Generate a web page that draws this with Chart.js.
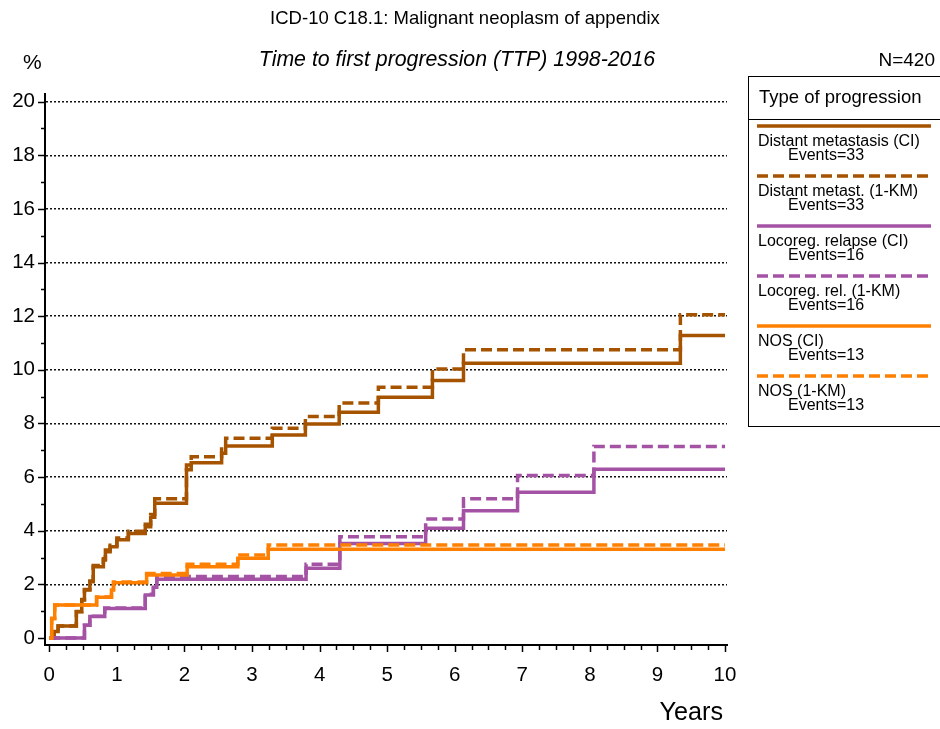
<!DOCTYPE html>
<html>
<head>
<meta charset="utf-8">
<title>ICD-10 C18.1: Malignant neoplasm of appendix</title>
<script src="https://cdn.jsdelivr.net/npm/chart.js@4.4.1/dist/chart.umd.min.js"></script>
<style>
  body { margin: 0; background: #fff; font-family: "Liberation Sans", Arial, sans-serif; }
  #wrap { position: relative; width: 940px; height: 729px; overflow: hidden; background: #fff; }
  #wrap canvas { position: absolute; left: 0; top: 0; }
  .t { position: absolute; white-space: nowrap; color: #000; }
  #legend { position: absolute; left: 748px; top: 76px; width: 196px; height: 351px;
            border: 1.5px solid #000; box-sizing: border-box; }
  #legend .head { position: absolute; left: 0; top: 0; width: 100%; height: 43px;
                  border-bottom: 1.5px solid #000; box-sizing: border-box; }
</style>
</head>
<body>
<div id="wrap">
  <canvas id="chart" width="940" height="729"></canvas>
  <div class="t" style="left:0;width:930px;text-align:center;top:7px;font-size:18.5px;line-height:22px;">ICD-10 C18.1: Malignant neoplasm of appendix</div>
  <div class="t" style="left:0;width:914px;text-align:center;top:47px;font-size:21.3px;line-height:25px;font-style:italic;">Time to first progression (TTP) 1998-2016</div>
  <div class="t" style="left:23px;top:50px;font-size:21px;line-height:24px;">%</div>
  <div class="t" style="right:5px;top:49px;font-size:19px;line-height:22px;">N=420</div>
  <div class="t" style="right:217px;top:697px;font-size:25.2px;line-height:29px;">Years</div>
  <div id="legend"><div class="head"><div class="t" style="left:10px;top:9px;font-size:18.5px;line-height:22px;">Type of progression</div></div></div>
</div>
<script>
// Follow-up time (years) and cumulative progression (%) for each type of progression
const distantTimes    = [0, 0.07, 0.13, 0.40, 0.48, 0.52, 0.60, 0.65, 0.80, 0.83, 0.90, 1.00, 1.17, 1.42, 1.50, 1.56, 2.03, 2.10, 2.55, 2.61, 3.30, 3.79, 4.29, 4.87, 5.67, 6.13, 9.34, 10.0];
const distantCI       = [0, 0.24, 0.45, 0.98, 1.42, 1.79, 2.10, 2.66, 2.91, 3.22, 3.40, 3.66, 3.90, 4.15, 4.50, 5.03, 6.27, 6.54, 6.89, 7.16, 7.57, 7.98, 8.42, 8.98, 9.60, 10.25, 11.28, 11.28];
const distantKM       = [0, 0.24, 0.45, 0.99, 1.44, 1.81, 2.13, 2.70, 2.96, 3.28, 3.46, 3.73, 3.98, 4.24, 4.61, 5.19, 6.45, 6.76, 7.12, 7.45, 7.82, 8.26, 8.76, 9.35, 10.03, 10.75, 12.05, 12.05];

const locoregTimes    = [0, 0.52, 0.60, 0.82, 1.42, 1.54, 1.59, 3.80, 4.30, 5.57, 6.13, 6.93, 8.06, 10.0];
const locoregCI       = [0, 0.48, 0.80, 1.10, 1.60, 1.89, 2.19, 2.60, 3.52, 4.09, 4.75, 5.44, 6.29, 6.29];
const locoregKM       = [0, 0.48, 0.81, 1.12, 1.63, 1.93, 2.29, 2.75, 3.78, 4.44, 5.19, 6.06, 7.14, 7.14];

const nosTimes        = [0, 0.035, 0.08, 0.70, 0.92, 0.95, 1.44, 2.04, 2.79, 3.24, 10.0];
const nosCI           = [0, 0.73, 1.23, 1.52, 1.79, 2.06, 2.35, 2.66, 2.97, 3.31, 3.31];
const nosKM           = [0, 0.73, 1.23, 1.53, 1.81, 2.09, 2.41, 2.75, 3.10, 3.47, 3.47];

const seriesLabels    = ['Distant metastasis (CI)', 'Distant metast. (1-KM)', 'Locoreg. relapse (CI)', 'Locoreg. rel. (1-KM)', 'NOS (CI)', 'NOS (1-KM)'];
const seriesEvents    = [33, 33, 16, 16, 13, 13];
const seriesColors    = ['#A65300', '#A65300', '#A452A4', '#A452A4', '#FF8000', '#FF8000'];
const seriesDashed    = [false, true, false, true, false, true];

// Axis ticks: years every quarter, percent every unit
const xTickValues = [];
for (let q = 0; q <= 40; q++) xTickValues.push(q / 4);
const yTickValues = [];
for (let v = 0; v <= 20; v++) yTickValues.push(v);

const FONT = '"Liberation Sans", Arial, sans-serif';
const DASH = [11, 5];

function pts(times, values) {
  return times.map((t, i) => ({ x: t, y: values[i] }));
}

const seriesData = [
  pts(distantTimes, distantCI), pts(distantTimes, distantKM),
  pts(locoregTimes, locoregCI), pts(locoregTimes, locoregKM),
  pts(nosTimes, nosCI), pts(nosTimes, nosKM)
];

// later series are painted over earlier ones
const datasets = seriesData.map((d, i) => ({
  label: seriesLabels[i],
  data: d,
  stepped: true,
  borderColor: seriesColors[i],
  borderWidth: 3.5,
  borderDash: seriesDashed[i] ? DASH : [],
  borderCapStyle: 'butt',
  pointRadius: 0,
  fill: false,
  order: seriesData.length - i
}));

// small tick marks outside both axes, longer at labelled values
const tickMarks = {
  id: 'tickMarks',
  afterDraw(chart) {
    const { ctx, scales: { x, y } } = chart;
    ctx.save();
    ctx.strokeStyle = '#000';
    ctx.lineWidth = 1.5;
    x.ticks.forEach(t => {
      const px = Math.round(x.getPixelForValue(t.value)) + 0.5;
      const len = Number.isInteger(t.value) ? 7 : 5;
      ctx.beginPath(); ctx.moveTo(px, x.top); ctx.lineTo(px, x.top + len); ctx.stroke();
    });
    y.ticks.forEach(t => {
      const py = Math.round(y.getPixelForValue(t.value)) + 0.5;
      const len = t.value % 2 === 0 ? 7 : 4;
      ctx.beginPath(); ctx.moveTo(y.right - len, py); ctx.lineTo(y.right, py); ctx.stroke();
    });
    ctx.restore();
  }
};

new Chart(document.getElementById('chart'), {
  type: 'line',
  data: { datasets },
  options: {
    responsive: false,
    animation: false,
    devicePixelRatio: 1,
    layout: { padding: { top: 93.6, right: 213, bottom: 0, left: 0 } },
    plugins: { legend: { display: false }, tooltip: { enabled: false } },
    scales: {
      x: {
        type: 'linear',
        min: -0.064,
        max: 10.03,
        afterBuildTicks: s => { s.ticks = xTickValues.map(v => ({ value: v })); },
        afterFit: s => { s.height = 84; },
        grid: { drawOnChartArea: false, drawTicks: false },
        border: { display: true, color: '#000', width: 2 },
        ticks: {
          padding: 18, autoSkip: false, maxRotation: 0, color: '#000',
          font: { family: FONT, size: 20.5 },
          callback: v => Number.isInteger(v) ? String(v) : ''
        }
      },
      y: {
        type: 'linear',
        min: -0.26,
        max: 20.3,
        afterBuildTicks: s => { s.ticks = yTickValues.map(v => ({ value: v })); },
        afterFit: s => { s.width = 45; },
        grid: {
          drawTicks: false,
          lineWidth: 1.5,
          color: c => (c.tick && c.tick.value > 0 && c.tick.value % 2 === 0) ? '#111' : 'rgba(0,0,0,0)'
        },
        border: { display: true, color: '#000', width: 2, dash: [2, 2] },
        ticks: {
          padding: 10, autoSkip: false, color: '#000',
          font: { family: FONT, size: 20.5 },
          callback: v => v % 2 === 0 ? String(v) : ''
        }
      }
    }
  },
  plugins: [tickMarks]
});

// boxed legend: sample line, series name and event count
const legend = document.getElementById('legend');
seriesLabels.forEach((label, i) => {
  const top = 126 + 50 * i - 76;
  const svgNS = 'http://www.w3.org/2000/svg';
  const svg = document.createElementNS(svgNS, 'svg');
  svg.setAttribute('width', '180');
  svg.setAttribute('height', '6');
  svg.style.position = 'absolute';
  svg.style.left = '8px';
  svg.style.top = (top - 4.5) + 'px';
  const ln = document.createElementNS(svgNS, 'line');
  ln.setAttribute('x1', '0'); ln.setAttribute('x2', '174');
  ln.setAttribute('y1', '3'); ln.setAttribute('y2', '3');
  ln.setAttribute('stroke', seriesColors[i]);
  ln.setAttribute('stroke-width', '3.5');
  if (seriesDashed[i]) ln.setAttribute('stroke-dasharray', DASH.join(' '));
  svg.appendChild(ln);
  legend.appendChild(svg);

  const name = document.createElement('div');
  name.className = 't';
  name.style.cssText = `left:9px;top:${top + 6}px;font-size:16px;line-height:16px;`;
  name.textContent = label;
  legend.appendChild(name);

  const ev = document.createElement('div');
  ev.className = 't';
  ev.style.cssText = `left:39px;top:${top + 20}px;font-size:16px;line-height:16px;`;
  ev.textContent = 'Events=' + seriesEvents[i];
  legend.appendChild(ev);
});
</script>
</body>
</html>
